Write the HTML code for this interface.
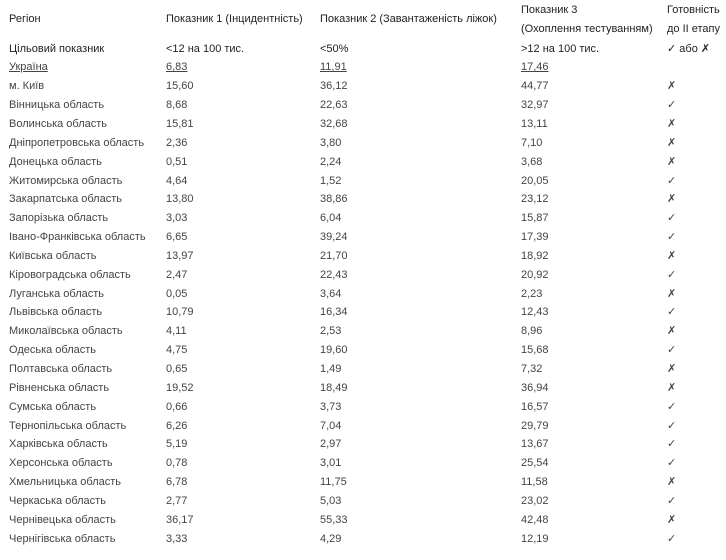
<!DOCTYPE html>
<html><head><meta charset="utf-8"><style>
body{margin:0;background:#fff;width:726px;height:560px;overflow:hidden;font-family:"Liberation Sans",sans-serif;font-size:11px;color:#444;}
.r{position:absolute;left:0;height:19px;line-height:19px;white-space:nowrap}
.r span{position:absolute;top:0}
.a{left:9px}.b{left:166px}.c{left:320px}.d{left:521px}.e{left:667px}
.bold{color:#222}
u{text-decoration:underline}
</style></head><body>
<div class="r bold" style="top:10px"><span class="a">Регіон</span><span class="b">Показник 1 (Інцидентність)</span><span class="c">Показник 2 (Завантаженість ліжок)</span></div>
<div class="r bold" style="top:1px"><span class="d">Показник 3</span><span class="e">Готовність</span></div>
<div class="r bold" style="top:20px"><span class="d">(Охоплення тестуванням)</span><span class="e">до ІІ етапу</span></div>
<div class="r bold" style="top:39.5px"><span class="a">Цільовий показник</span><span class="b">&lt;12 на 100 тис.</span><span class="c">&lt;50%</span><span class="d">&gt;12 на 100 тис.</span><span class="e">✓ або ✗</span></div>
<div id="rows"></div>
<script>
var d=[["<u>Україна</u>","<u>6,83</u>","<u>11,91</u>","<u>17,46</u>",""],
["м. Київ","15,60","36,12","44,77","✗"],
["Вінницька область","8,68","22,63","32,97","✓"],
["Волинська область","15,81","32,68","13,11","✗"],
["Дніпропетровська область","2,36","3,80","7,10","✗"],
["Донецька область","0,51","2,24","3,68","✗"],
["Житомирська область","4,64","1,52","20,05","✓"],
["Закарпатська область","13,80","38,86","23,12","✗"],
["Запорізька область","3,03","6,04","15,87","✓"],
["Івано-Франківська область","6,65","39,24","17,39","✓"],
["Київська область","13,97","21,70","18,92","✗"],
["Кіровоградська область","2,47","22,43","20,92","✓"],
["Луганська область","0,05","3,64","2,23","✗"],
["Львівська область","10,79","16,34","12,43","✓"],
["Миколаївська область","4,11","2,53","8,96","✗"],
["Одеська область","4,75","19,60","15,68","✓"],
["Полтавська область","0,65","1,49","7,32","✗"],
["Рівненська область","19,52","18,49","36,94","✗"],
["Сумська область","0,66","3,73","16,57","✓"],
["Тернопільська область","6,26","7,04","29,79","✓"],
["Харківська область","5,19","2,97","13,67","✓"],
["Херсонська область","0,78","3,01","25,54","✓"],
["Хмельницька область","6,78","11,75","11,58","✗"],
["Черкаська область","2,77","5,03","23,02","✓"],
["Чернівецька область","36,17","55,33","42,48","✗"],
["Чернігівська область","3,33","4,29","12,19","✓"]];
var h="";d.forEach(function(r,i){var t=39.5+18.85*(i+1);h+='<div class="r" style="top:'+t.toFixed(1)+'px"><span class="a">'+r[0]+'</span><span class="b">'+r[1]+'</span><span class="c">'+r[2]+'</span><span class="d">'+r[3]+'</span><span class="e">'+r[4]+'</span></div>';});
document.getElementById("rows").innerHTML=h;
</script>
</body></html>
